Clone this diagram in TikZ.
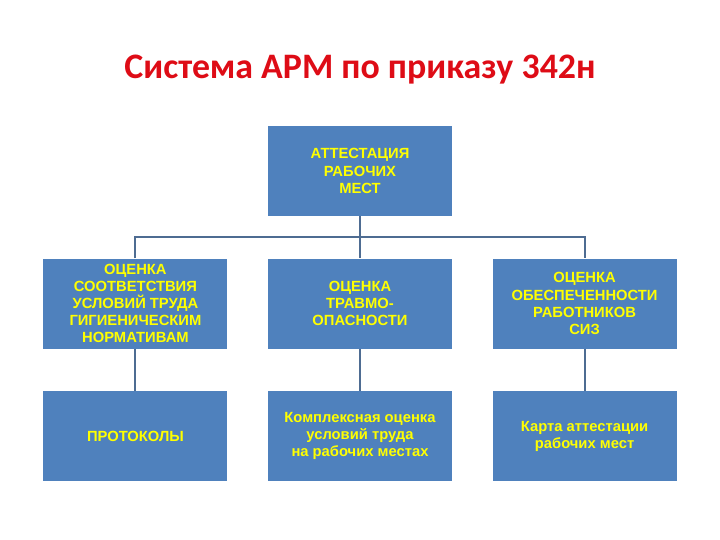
\documentclass[tikz,border=0pt]{standalone}
\usepackage{fontspec}
\setmainfont{Liberation Sans}
\newfontfamily\titlefont{Carlito}
\usetikzlibrary{positioning}

\definecolor{boxblue}{RGB}{79,129,189}
\definecolor{linkblue}{RGB}{78,108,146}
\definecolor{textyellow}{RGB}{255,255,0}
\definecolor{titlered}{RGB}{222,12,22}

\tikzset{
  box/.style={rectangle, fill=boxblue, minimum width=4.6cm, minimum height=2.25cm,
    inner sep=2pt, align=center, text=textyellow,
    font=\fontsize{10.5}{12.2}\selectfont\bfseries},
  link/.style={draw=linkblue, line width=1.4pt}
}

\begin{document}
\begin{tikzpicture}[node distance=10mm]
  \useasboundingbox (0,0) rectangle (18,-13.5);
  \node[text=titlered, font=\titlefont\bfseries\fontsize{25.5}{30}\selectfont] (title) at (9,-1.75) {Система АРМ по приказу 342н};

  \node[box] (att) at (9,-4.275) {АТТЕСТАЦИЯ\\РАБОЧИХ\\МЕСТ};

  \node[box, below=10.5mm of att] (travma) {ОЦЕНКА\\ТРАВМО-\\ОПАСНОСТИ};
  \node[box, left=10mm of travma] (gigiena) {ОЦЕНКА\\СООТВЕТСТВИЯ\\УСЛОВИЙ ТРУДА\\ГИГИЕНИЧЕСКИМ\\НОРМАТИВАМ};
  \node[box, right=10mm of travma] (siz) {ОЦЕНКА\\ОБЕСПЕЧЕННОСТИ\\РАБОТНИКОВ\\СИЗ};

  \node[box, below=10.5mm of gigiena] (protokoly) {ПРОТОКОЛЫ};
  \node[box, below=10.5mm of travma] (kompleks) {Комплексная оценка\\условий труда\\на рабочих местах};
  \node[box, below=10.5mm of siz] (karta) {Карта аттестации\\рабочих мест};

  % bus between the top box and the second row
  \draw[link] (att.south) -- (travma.north);
  \draw[link] (gigiena.north) -- ++(0,0.525) -| (siz.north);

  % second row to third row
  \draw[link] (gigiena.south) -- (protokoly.north);
  \draw[link] (travma.south) -- (kompleks.north);
  \draw[link] (siz.south) -- (karta.north);
\end{tikzpicture}
\end{document}
